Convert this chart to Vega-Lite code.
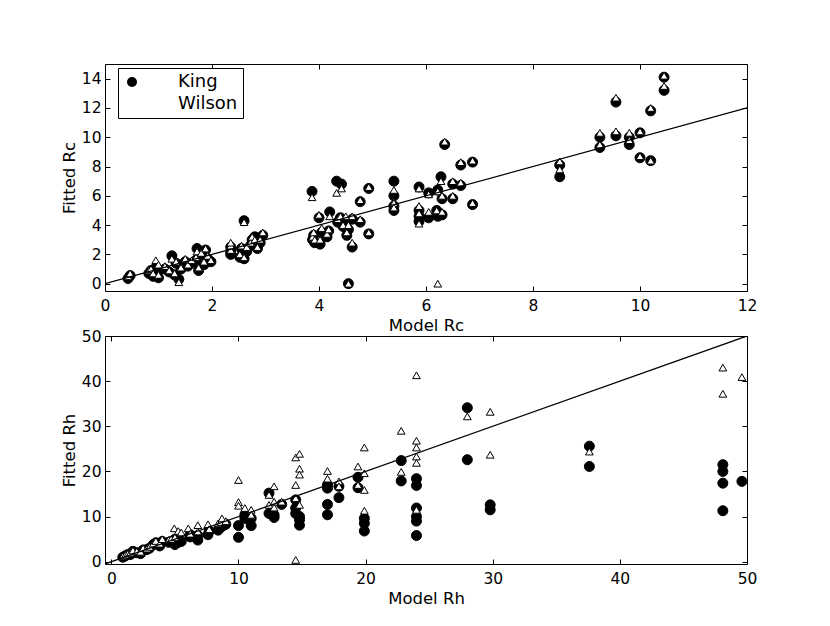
{
  "$schema": "https://vega.github.io/schema/vega-lite/v6.json",
  "padding": {"left": 60, "top": 63, "right": 5, "bottom": 5},
  "bounds": "flush",
  "spacing": 45,
  "config": {
    "font": "DejaVu Sans",
    "view": {"stroke": "black", "strokeWidth": 1},
    "axis": {
      "domain": false, "grid": false, "tickColor": "black", "tickSize": -5, "tickWidth": 1,
      "labelColor": "black", "labelFontSize": 15.5, "titleFontSize": 16.5, "titleFontWeight": "normal",
      "titleColor": "black", "labelFlush": false, "labelOverlap": false, "titlePadding": 4
    },
    "axisX": {"labelPadding": 12},
    "axisY": {"labelPadding": 9},
    "legend": {
      "orient": "none", "legendX": 13, "legendY": 4, "padding": 5,
      "strokeColor": "black", "fillColor": "white", "cornerRadius": 0,
      "labelFontSize": 18, "labelColor": "black", "symbolSize": 100, "symbolStrokeColor": "black",
      "symbolStrokeWidth": 1, "symbolOffset": 0, "labelOffset": 37, "rowPadding": 4
    }
  },
  "datasets": {
    "rc": [
      {"m":0.43,"King":0.35,"Wilson":0.5},{"m":0.47,"King":0.55,"Wilson":0.7},
      {"m":0.82,"King":0.7,"Wilson":0.9},{"m":0.86,"King":0.9,"Wilson":1.0},{"m":0.9,"King":0.5,"Wilson":0.7},
      {"m":0.95,"King":1.1,"Wilson":1.6},{"m":1.0,"King":0.4,"Wilson":0.6},{"m":1.0,"King":0.9,"Wilson":1.3},
      {"m":1.12,"King":1.0,"Wilson":1.2},{"m":1.2,"King":0.8,"Wilson":0.9},{"m":1.25,"King":1.9,"Wilson":1.7},
      {"m":1.3,"King":0.6,"Wilson":0.7},{"m":1.33,"King":1.4,"Wilson":1.5},{"m":1.38,"King":0.3,"Wilson":0.1},
      {"m":1.42,"King":1.0,"Wilson":1.1},{"m":1.5,"King":1.5,"Wilson":1.7},{"m":1.55,"King":1.2,"Wilson":1.3},
      {"m":1.62,"King":1.4,"Wilson":1.6},{"m":1.7,"King":1.6,"Wilson":1.8},{"m":1.72,"King":2.4,"Wilson":2.2},
      {"m":1.75,"King":0.9,"Wilson":1.1},{"m":1.8,"King":2.0,"Wilson":2.1},{"m":1.85,"King":1.3,"Wilson":1.5},
      {"m":1.88,"King":2.3,"Wilson":2.4},{"m":1.92,"King":1.7,"Wilson":1.9},{"m":1.98,"King":1.5,"Wilson":1.6},
      {"m":2.35,"King":2.0,"Wilson":2.3},{"m":2.35,"King":2.2,"Wilson":2.6},{"m":2.35,"King":2.5,"Wilson":2.8},
      {"m":2.52,"King":1.8,"Wilson":2.0},{"m":2.55,"King":2.4,"Wilson":2.6},{"m":2.6,"King":1.7,"Wilson":1.8},
      {"m":2.6,"King":4.3,"Wilson":4.2},{"m":2.65,"King":2.2,"Wilson":2.5},{"m":2.72,"King":2.6,"Wilson":2.8},
      {"m":2.75,"King":3.0,"Wilson":3.2},{"m":2.8,"King":3.2,"Wilson":3.0},{"m":2.85,"King":2.4,"Wilson":2.5},
      {"m":2.9,"King":2.8,"Wilson":3.0},{"m":2.95,"King":3.3,"Wilson":3.5},
      {"m":3.87,"King":6.3,"Wilson":5.9},{"m":3.88,"King":3.0,"Wilson":3.2},{"m":3.9,"King":3.3,"Wilson":3.5},
      {"m":3.92,"King":2.8,"Wilson":3.0},{"m":4.0,"King":4.5,"Wilson":4.7},{"m":4.02,"King":2.7,"Wilson":3.0},
      {"m":4.05,"King":3.5,"Wilson":3.8},{"m":4.15,"King":3.2,"Wilson":3.4},{"m":4.2,"King":4.9,"Wilson":4.6},
      {"m":4.18,"King":3.6,"Wilson":3.7},{"m":4.33,"King":7.0,"Wilson":6.2},{"m":4.42,"King":6.8,"Wilson":6.5},
      {"m":4.35,"King":4.2,"Wilson":4.4},{"m":4.4,"King":4.5,"Wilson":4.6},{"m":4.45,"King":3.9,"Wilson":4.0},
      {"m":4.5,"King":4.2,"Wilson":4.6},{"m":4.52,"King":3.3,"Wilson":3.5},{"m":4.55,"King":0.0,"Wilson":0.0},
      {"m":4.62,"King":2.5,"Wilson":2.8},{"m":4.62,"King":4.4,"Wilson":4.6},{"m":4.55,"King":3.7,"Wilson":4.0},
      {"m":4.77,"King":5.6,"Wilson":5.7},{"m":4.77,"King":4.2,"Wilson":4.4},{"m":4.93,"King":3.4,"Wilson":3.5},
      {"m":4.93,"King":6.5,"Wilson":6.6},
      {"m":5.4,"King":7.0,"Wilson":6.4},{"m":5.4,"King":6.0,"Wilson":5.6},{"m":5.4,"King":5.3,"Wilson":5.5},
      {"m":5.4,"King":5.0,"Wilson":5.2},
      {"m":5.87,"King":6.6,"Wilson":6.5},{"m":5.87,"King":5.0,"Wilson":5.3},{"m":5.87,"King":4.6,"Wilson":4.8},
      {"m":5.87,"King":4.25,"Wilson":4.1},{"m":6.05,"King":6.2,"Wilson":6.1},{"m":6.05,"King":4.5,"Wilson":4.9},
      {"m":6.2,"King":5.0,"Wilson":5.0},{"m":6.22,"King":6.4,"Wilson":6.3},{"m":6.22,"King":4.6,"Wilson":0.0},
      {"m":6.28,"King":7.3,"Wilson":7.0},{"m":6.3,"King":5.8,"Wilson":6.0},{"m":6.3,"King":4.7,"Wilson":4.9},
      {"m":6.35,"King":9.5,"Wilson":9.7},{"m":6.5,"King":6.8,"Wilson":7.0},{"m":6.5,"King":5.8,"Wilson":6.0},
      {"m":6.65,"King":8.1,"Wilson":8.3},{"m":6.65,"King":6.7,"Wilson":6.9},{"m":6.87,"King":8.3,"Wilson":8.4},
      {"m":6.87,"King":5.4,"Wilson":5.5},
      {"m":8.5,"King":8.1,"Wilson":8.35},{"m":8.5,"King":7.3,"Wilson":7.8},
      {"m":9.25,"King":10.0,"Wilson":10.3},{"m":9.25,"King":9.3,"Wilson":9.5},
      {"m":9.55,"King":12.4,"Wilson":12.7},{"m":9.55,"King":10.1,"Wilson":10.4},
      {"m":9.8,"King":10.0,"Wilson":10.3},{"m":9.8,"King":9.5,"Wilson":9.8},
      {"m":10.0,"King":10.3,"Wilson":10.4},{"m":10.0,"King":8.6,"Wilson":8.7},
      {"m":10.2,"King":11.8,"Wilson":12.0},{"m":10.2,"King":8.4,"Wilson":8.4},
      {"m":10.45,"King":14.1,"Wilson":14.2},{"m":10.45,"King":13.2,"Wilson":13.5}
    ],
    "rh": [
      {"m":0.9,"f":1.0,"fit":"King"},{"m":1.1,"f":1.3,"fit":"King"},{"m":1.3,"f":1.6,"fit":"King"},{"m":1.5,"f":1.6,"fit":"King"},
      {"m":1.7,"f":2.3,"fit":"King"},{"m":2.0,"f":2.0,"fit":"King"},{"m":2.3,"f":1.8,"fit":"King"},{"m":2.5,"f":2.6,"fit":"King"},
      {"m":2.8,"f":2.7,"fit":"King"},{"m":3.0,"f":3.0,"fit":"King"},{"m":3.3,"f":3.8,"fit":"King"},{"m":3.5,"f":4.2,"fit":"King"},
      {"m":3.8,"f":3.5,"fit":"King"},{"m":4.0,"f":4.5,"fit":"King"},{"m":4.5,"f":4.3,"fit":"King"},{"m":4.7,"f":4.5,"fit":"King"},
      {"m":5.0,"f":3.8,"fit":"King"},{"m":5.0,"f":5.0,"fit":"King"},{"m":5.2,"f":4.2,"fit":"King"},{"m":5.5,"f":4.5,"fit":"King"},
      {"m":6.2,"f":5.5,"fit":"King"},{"m":6.2,"f":6.0,"fit":"King"},{"m":6.8,"f":4.8,"fit":"King"},{"m":6.8,"f":5.8,"fit":"King"},
      {"m":7.6,"f":6.0,"fit":"King"},{"m":7.7,"f":6.8,"fit":"King"},{"m":8.4,"f":7.0,"fit":"King"},{"m":8.6,"f":7.6,"fit":"King"},
      {"m":8.8,"f":8.0,"fit":"King"},{"m":9.0,"f":8.3,"fit":"King"},
      {"m":10.0,"f":8.0,"fit":"King"},{"m":10.0,"f":5.4,"fit":"King"},{"m":10.5,"f":10.4,"fit":"King"},{"m":10.5,"f":9.6,"fit":"King"},
      {"m":11.0,"f":9.6,"fit":"King"},{"m":11.0,"f":8.0,"fit":"King"},{"m":12.4,"f":15.2,"fit":"King"},{"m":12.4,"f":10.7,"fit":"King"},
      {"m":12.8,"f":10.4,"fit":"King"},{"m":12.8,"f":9.8,"fit":"King"},{"m":13.4,"f":12.7,"fit":"King"},{"m":14.5,"f":13.7,"fit":"King"},
      {"m":14.5,"f":11.9,"fit":"King"},{"m":14.5,"f":10.7,"fit":"King"},{"m":14.8,"f":10.0,"fit":"King"},{"m":14.8,"f":9.3,"fit":"King"},
      {"m":14.8,"f":8.1,"fit":"King"},{"m":17.0,"f":17.0,"fit":"King"},{"m":17.0,"f":16.3,"fit":"King"},{"m":17.0,"f":12.7,"fit":"King"},
      {"m":17.0,"f":10.4,"fit":"King"},{"m":17.9,"f":16.7,"fit":"King"},{"m":17.9,"f":14.2,"fit":"King"},{"m":19.4,"f":18.7,"fit":"King"},
      {"m":19.4,"f":16.4,"fit":"King"},{"m":19.9,"f":9.6,"fit":"King"},{"m":19.9,"f":8.5,"fit":"King"},{"m":19.9,"f":6.8,"fit":"King"},
      {"m":22.8,"f":22.4,"fit":"King"},{"m":22.8,"f":17.9,"fit":"King"},{"m":24.0,"f":18.4,"fit":"King"},{"m":24.0,"f":16.9,"fit":"King"},
      {"m":24.0,"f":11.9,"fit":"King"},{"m":24.0,"f":10.0,"fit":"King"},{"m":24.0,"f":9.0,"fit":"King"},{"m":24.0,"f":5.8,"fit":"King"},
      {"m":28.0,"f":34.1,"fit":"King"},{"m":28.0,"f":22.6,"fit":"King"},{"m":29.8,"f":12.6,"fit":"King"},{"m":29.8,"f":11.5,"fit":"King"},
      {"m":37.6,"f":25.6,"fit":"King"},{"m":37.6,"f":21.1,"fit":"King"},{"m":48.1,"f":21.5,"fit":"King"},{"m":48.1,"f":20.0,"fit":"King"},
      {"m":48.1,"f":17.4,"fit":"King"},{"m":48.1,"f":11.3,"fit":"King"},{"m":49.6,"f":17.8,"fit":"King"},
      {"m":0.9,"f":1.2,"fit":"Wilson"},{"m":1.1,"f":1.5,"fit":"Wilson"},{"m":1.3,"f":1.8,"fit":"Wilson"},{"m":1.5,"f":2.0,"fit":"Wilson"},
      {"m":1.7,"f":2.5,"fit":"Wilson"},{"m":2.0,"f":2.3,"fit":"Wilson"},{"m":2.3,"f":2.2,"fit":"Wilson"},{"m":2.5,"f":3.0,"fit":"Wilson"},
      {"m":2.8,"f":2.9,"fit":"Wilson"},{"m":3.0,"f":3.3,"fit":"Wilson"},{"m":3.3,"f":4.0,"fit":"Wilson"},{"m":3.5,"f":4.6,"fit":"Wilson"},
      {"m":3.8,"f":4.0,"fit":"Wilson"},{"m":4.0,"f":5.0,"fit":"Wilson"},{"m":4.5,"f":4.8,"fit":"Wilson"},{"m":4.7,"f":5.0,"fit":"Wilson"},
      {"m":4.95,"f":7.4,"fit":"Wilson"},{"m":5.0,"f":5.4,"fit":"Wilson"},{"m":5.26,"f":6.8,"fit":"Wilson"},{"m":5.5,"f":6.5,"fit":"Wilson"},
      {"m":6.05,"f":7.4,"fit":"Wilson"},{"m":6.2,"f":6.2,"fit":"Wilson"},{"m":6.8,"f":8.1,"fit":"Wilson"},{"m":6.8,"f":6.7,"fit":"Wilson"},
      {"m":7.6,"f":8.3,"fit":"Wilson"},{"m":7.7,"f":7.2,"fit":"Wilson"},{"m":8.4,"f":8.5,"fit":"Wilson"},{"m":8.6,"f":8.8,"fit":"Wilson"},
      {"m":8.7,"f":9.6,"fit":"Wilson"},{"m":9.0,"f":9.0,"fit":"Wilson"},
      {"m":10.0,"f":18.1,"fit":"Wilson"},{"m":10.0,"f":13.2,"fit":"Wilson"},{"m":10.0,"f":12.4,"fit":"Wilson"},{"m":10.5,"f":11.9,"fit":"Wilson"},
      {"m":11.0,"f":11.5,"fit":"Wilson"},{"m":11.0,"f":10.4,"fit":"Wilson"},{"m":12.4,"f":14.8,"fit":"Wilson"},{"m":12.4,"f":12.6,"fit":"Wilson"},
      {"m":12.8,"f":16.7,"fit":"Wilson"},{"m":12.8,"f":13.3,"fit":"Wilson"},{"m":12.8,"f":12.0,"fit":"Wilson"},{"m":13.4,"f":13.3,"fit":"Wilson"},
      {"m":14.5,"f":23.1,"fit":"Wilson"},{"m":14.5,"f":17.0,"fit":"Wilson"},{"m":14.5,"f":14.1,"fit":"Wilson"},{"m":14.5,"f":0.4,"fit":"Wilson"},
      {"m":14.8,"f":23.9,"fit":"Wilson"},{"m":14.8,"f":20.6,"fit":"Wilson"},{"m":14.8,"f":19.3,"fit":"Wilson"},{"m":14.8,"f":12.6,"fit":"Wilson"},
      {"m":17.0,"f":20.1,"fit":"Wilson"},{"m":17.0,"f":18.4,"fit":"Wilson"},{"m":17.9,"f":17.8,"fit":"Wilson"},{"m":17.9,"f":16.7,"fit":"Wilson"},
      {"m":19.4,"f":21.1,"fit":"Wilson"},{"m":19.4,"f":17.0,"fit":"Wilson"},{"m":19.9,"f":25.3,"fit":"Wilson"},{"m":19.9,"f":19.6,"fit":"Wilson"},
      {"m":19.9,"f":15.9,"fit":"Wilson"},{"m":19.9,"f":11.3,"fit":"Wilson"},{"m":22.8,"f":29.0,"fit":"Wilson"},{"m":22.8,"f":19.9,"fit":"Wilson"},
      {"m":24.0,"f":41.3,"fit":"Wilson"},{"m":24.0,"f":26.8,"fit":"Wilson"},{"m":24.0,"f":25.3,"fit":"Wilson"},{"m":24.0,"f":23.3,"fit":"Wilson"},
      {"m":24.0,"f":21.9,"fit":"Wilson"},{"m":24.0,"f":11.5,"fit":"Wilson"},{"m":28.0,"f":32.2,"fit":"Wilson"},{"m":29.8,"f":33.2,"fit":"Wilson"},
      {"m":29.8,"f":23.7,"fit":"Wilson"},{"m":37.6,"f":24.4,"fit":"Wilson"},{"m":48.1,"f":43.0,"fit":"Wilson"},{"m":48.1,"f":37.2,"fit":"Wilson"},
      {"m":49.6,"f":40.9,"fit":"Wilson"}
    ]
  },
  "vconcat": [
    {
      "width": 642, "height": 227,
      "layer": [
        {
          "data": {"name": "rc"},
          "transform": [{"fold": ["King", "Wilson"], "as": ["fit", "f"]}],
          "mark": {"type": "point", "filled": true, "stroke": "black", "strokeWidth": 1, "opacity": 1},
          "encoding": {
            "x": {"field": "m", "type": "quantitative", "scale": {"domain": [0, 12], "nice": false, "zero": false},
                  "axis": {"title": "Model Rc", "values": [0, 2, 4, 6, 8, 10, 12]}},
            "y": {"field": "f", "type": "quantitative", "scale": {"domain": [-0.5, 15], "nice": false, "zero": false},
                  "axis": {"title": "Fitted Rc", "values": [0, 2, 4, 6, 8, 10, 12, 14]}},
            "shape": {"field": "fit", "type": "nominal", "scale": {"domain": ["King", "Wilson"], "range": ["circle", "triangle-up"]},
                      "legend": {"title": null}},
            "fill": {"field": "fit", "type": "nominal", "scale": {"domain": ["King", "Wilson"], "range": ["black", "white"]},
                     "legend": {"title": null}},
            "size": {"field": "fit", "type": "ordinal", "scale": {"domain": ["King", "Wilson"], "range": [100, 60]},
                     "legend": {"title": null}},
            "order": {"field": "fit", "type": "nominal"}
          }
        },
        {
          "data": {"values": [{"m": 0, "f": 0}, {"m": 12, "f": 12}]},
          "mark": {"type": "line", "color": "black", "strokeWidth": 1.3, "clip": true},
          "encoding": {
            "x": {"field": "m", "type": "quantitative", "axis": {"orient": "top", "labels": false, "title": null, "values": [0, 2, 4, 6, 8, 10, 12]}},
            "y": {"field": "f", "type": "quantitative", "axis": {"orient": "right", "labels": false, "title": null, "values": [0, 2, 4, 6, 8, 10, 12, 14]}}
          }
        }
      ],
      "resolve": {"axis": {"x": "independent", "y": "independent"}}
    },
    {
      "width": 642, "height": 228,
      "layer": [
        {
          "data": {"name": "rh"},
          "mark": {"type": "point", "filled": true, "stroke": "black", "strokeWidth": 1, "opacity": 1},
          "encoding": {
            "x": {"field": "m", "type": "quantitative", "scale": {"domain": [-0.5, 50], "nice": false, "zero": false},
                  "axis": {"title": "Model Rh", "values": [0, 10, 20, 30, 40, 50]}},
            "y": {"field": "f", "type": "quantitative", "scale": {"domain": [-0.5, 50], "nice": false, "zero": false},
                  "axis": {"title": "Fitted Rh", "values": [0, 10, 20, 30, 40, 50]}},
            "shape": {"field": "fit", "type": "nominal", "scale": {"domain": ["King", "Wilson"], "range": ["circle", "triangle-up"]}, "legend": null},
            "fill": {"field": "fit", "type": "nominal", "scale": {"domain": ["King", "Wilson"], "range": ["black", "white"]}, "legend": null},
            "size": {"field": "fit", "type": "ordinal", "scale": {"domain": ["King", "Wilson"], "range": [100, 60]}, "legend": null},
            "order": {"field": "fit", "type": "nominal"}
          }
        },
        {
          "data": {"values": [{"m": -1, "f": -1}, {"m": 50, "f": 50}]},
          "mark": {"type": "line", "color": "black", "strokeWidth": 1.3, "clip": true},
          "encoding": {
            "x": {"field": "m", "type": "quantitative", "axis": {"orient": "top", "labels": false, "title": null, "values": [0, 10, 20, 30, 40, 50]}},
            "y": {"field": "f", "type": "quantitative", "axis": {"orient": "right", "labels": false, "title": null, "values": [0, 10, 20, 30, 40, 50]}}
          }
        }
      ],
      "resolve": {"axis": {"x": "independent", "y": "independent"}}
    }
  ],
  "resolve": {"legend": {"shape": "independent", "fill": "independent", "size": "independent"}}
}
